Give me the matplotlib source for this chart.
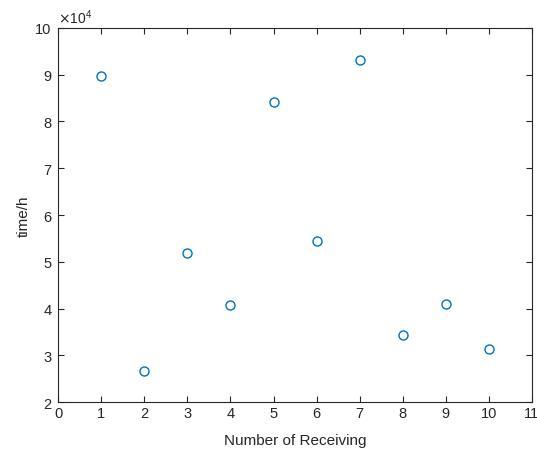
import matplotlib
matplotlib.use("Agg")
import matplotlib.pyplot as plt

# data (time in units of 1e4 h)
receiving = [1, 2, 3, 4, 5, 6, 7, 8, 9, 10]
time_h = [8.96, 2.66, 5.19, 4.07, 8.41, 5.44, 9.30, 3.44, 4.10, 3.14]
x_ticks = list(range(0, 12))
y_ticks = list(range(2, 11))

plt.rcParams["font.family"] = ["Liberation Sans", "DejaVu Sans"]

fig = plt.figure(figsize=(5.37, 4.52), dpi=100)
fig.set_facecolor("white")
ax = fig.add_axes([0.1086, 0.1077, 0.8816, 0.8288])

ax.plot(receiving, time_h, "o", mfc="none", mec="#0072BD", ms=6.5, mew=1.0)

ax.set_xlim(0, 11)
ax.set_ylim(2, 10)
ax.set_xticks(x_ticks)
ax.set_yticks(y_ticks)

edge = "#262626"
for s in ax.spines.values():
    s.set_color(edge)
    s.set_linewidth(0.8)
ax.tick_params(direction="in", top=True, right=True, length=4, width=0.8,
               color=edge, labelcolor=edge, labelsize=10.5)
ax.tick_params(axis="x", pad=3)
ax.tick_params(axis="y", pad=5)

ax.text(0.0, 1.005, r"$\times\mathregular{10^{4}}$", transform=ax.transAxes,
        ha="left", va="bottom", fontsize=10, color=edge)

ax.set_xlabel("Number of Receiving", fontsize=11, color=edge, labelpad=9)
ax.set_ylabel("time/h", fontsize=11, color=edge, labelpad=3)

fig.savefig("out.png", dpi=100)
